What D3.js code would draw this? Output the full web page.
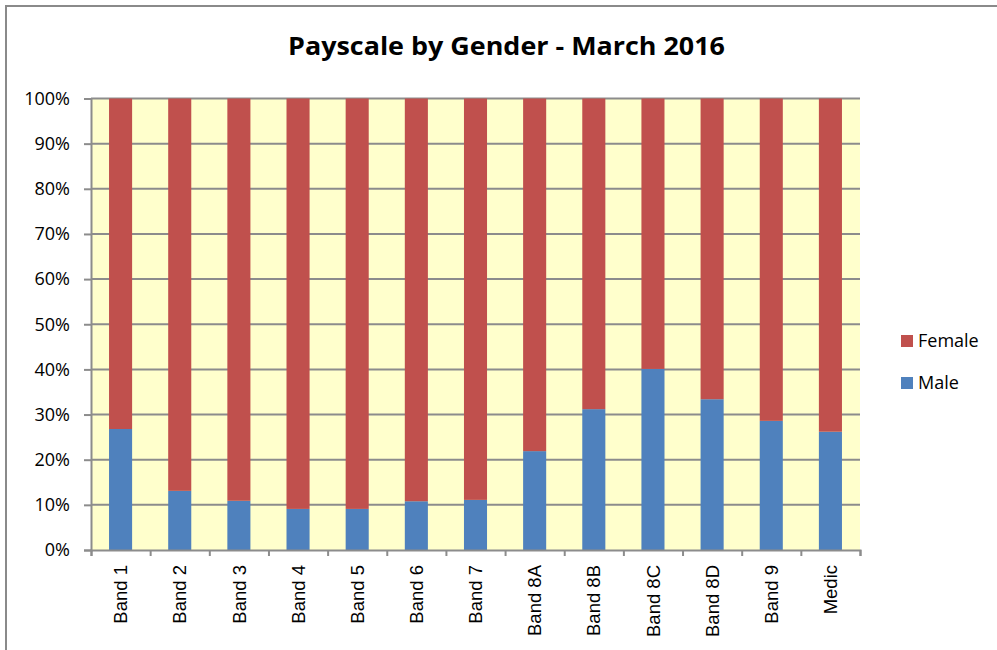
<!DOCTYPE html>
<html>
<head>
<meta charset="utf-8">
<script src="https://cdn.jsdelivr.net/npm/d3@7"></script>
<style>
  body { margin: 0; background: #fff; }
  svg { display: block; }
</style>
</head>
<body>
<svg id="chart"></svg>
<script>
const categories = ["Band 1", "Band 2", "Band 3", "Band 4", "Band 5", "Band 6", "Band 7",
  "Band 8A", "Band 8B", "Band 8C", "Band 8D", "Band 9", "Medic"];
const male = [26.8, 13.1, 10.9, 9.1, 9.1, 10.8, 11.1, 21.9, 31.2, 40.1, 33.4, 28.6, 26.2];
const female = [73.2, 86.9, 89.1, 90.9, 90.9, 89.2, 88.9, 78.1, 68.8, 59.9, 66.6, 71.4, 73.8];
const seriesNames = ["Male", "Female"];
const yTicks = [0, 10, 20, 30, 40, 50, 60, 70, 80, 90, 100];

const colors = { Male: "#4f81bd", Female: "#c0504d" };

const W = 997, H = 650;
const margin = { top: 98.5, right: 137, bottom: 100, left: 91 };
const width = W - margin.left - margin.right;
const height = 550 - margin.top;

const svg = d3.select("#chart").attr("width", W).attr("height", H);

// outer chart border (only top/left visible in the frame)
svg.append("rect")
  .attr("x", 6).attr("y", 6)
  .attr("width", 1100).attr("height", 800)
  .attr("fill", "#fff")
  .attr("stroke", "#8a8a8a")
  .attr("stroke-width", 2);

svg.append("text")
  .attr("x", 506.5)
  .attr("y", 55)
  .attr("text-anchor", "middle")
  .attr("font-family", "'Open Sans', sans-serif")
  .attr("font-weight", "bold")
  .attr("font-size", 25.5)
  .attr("textLength", 437)
  .attr("lengthAdjust", "spacingAndGlyphs")
  .text("Payscale by Gender - March 2016");

const g = svg.append("g").attr("transform", `translate(${margin.left},${margin.top})`);

const rows = categories.map((c, i) => ({ cat: c, Male: male[i], Female: female[i] }));
const stacked = d3.stack().keys(seriesNames)(rows);

const x = d3.scaleBand()
  .domain(categories)
  .range([0, width])
  .paddingInner(0.61)
  .paddingOuter(0.305);

const y = d3.scaleLinear().domain([0, 100]).range([height, 0]);

g.append("rect")
  .attr("width", width).attr("height", height)
  .attr("fill", "#ffffcc");

// gridlines
g.selectAll(".grid")
  .data(yTicks.slice(1))
  .enter()
  .append("line")
  .attr("x1", 0).attr("x2", width)
  .attr("y1", (d) => y(d)).attr("y2", (d) => y(d))
  .attr("stroke", "#8c8c8c")
  .attr("stroke-width", 2);

g.selectAll(".series")
  .data(stacked)
  .enter()
  .append("g")
  .attr("fill", (s) => colors[s.key])
  .selectAll("rect")
  .data((s) => s)
  .enter()
  .append("rect")
  .attr("x", (d) => x(d.data.cat))
  .attr("y", (d) => y(d[1]))
  .attr("width", x.bandwidth())
  .attr("height", (d) => y(d[0]) - y(d[1]));

// y axis
const yAxis = d3.axisLeft(y)
  .tickValues(yTicks)
  .tickSize(7)
  .tickPadding(14)
  .tickFormat((d) => d + "%");

g.append("g")
  .call(yAxis)
  .call((a) => a.select(".domain").attr("stroke", "#8c8c8c").attr("stroke-width", 2))
  .call((a) => a.selectAll(".tick line").attr("stroke", "#8c8c8c").attr("stroke-width", 2))
  .call((a) => a.selectAll(".tick text")
    .attr("font-family", "'Open Sans', sans-serif")
    .attr("font-size", 18)
    .attr("fill", "#000"));

// x axis: boundary ticks
const xb = d3.scaleLinear().domain([0, categories.length]).range([0, width]);
g.append("g")
  .attr("transform", `translate(0,${height})`)
  .call(d3.axisBottom(xb).tickValues(d3.range(categories.length + 1)).tickSize(6).tickFormat(""))
  .call((a) => a.select(".domain").attr("stroke", "#8c8c8c").attr("stroke-width", 2))
  .call((a) => a.selectAll(".tick line").attr("stroke", "#8c8c8c").attr("stroke-width", 2));

// x labels
g.append("g")
  .attr("transform", `translate(0,${height})`)
  .call(d3.axisBottom(x).tickSize(0).tickPadding(0))
  .call((a) => a.select(".domain").remove())
  .call((a) => a.selectAll(".tick text")
    .attr("font-family", "'Liberation Sans', Arial, sans-serif")
    .attr("font-size", 18.5)
    .attr("fill", "#000")
    .attr("transform", "rotate(-90)")
    .attr("text-anchor", "end")
    .attr("x", -15)
    .attr("y", 0)
    .attr("dy", "0.36em"));

// legend
const legend = svg.append("g").attr("transform", "translate(901,335)");
["Female", "Male"].forEach((k, i) => {
  const row = legend.append("g").attr("transform", `translate(0,${i * 42})`);
  row.append("rect").attr("width", 12).attr("height", 12).attr("fill", colors[k]);
  row.append("text")
    .attr("x", 17).attr("y", 12)
    .attr("font-family", "'Open Sans', sans-serif")
    .attr("font-size", 18)
    .attr("fill", "#000")
    .text(k);
});
</script>
</body>
</html>
